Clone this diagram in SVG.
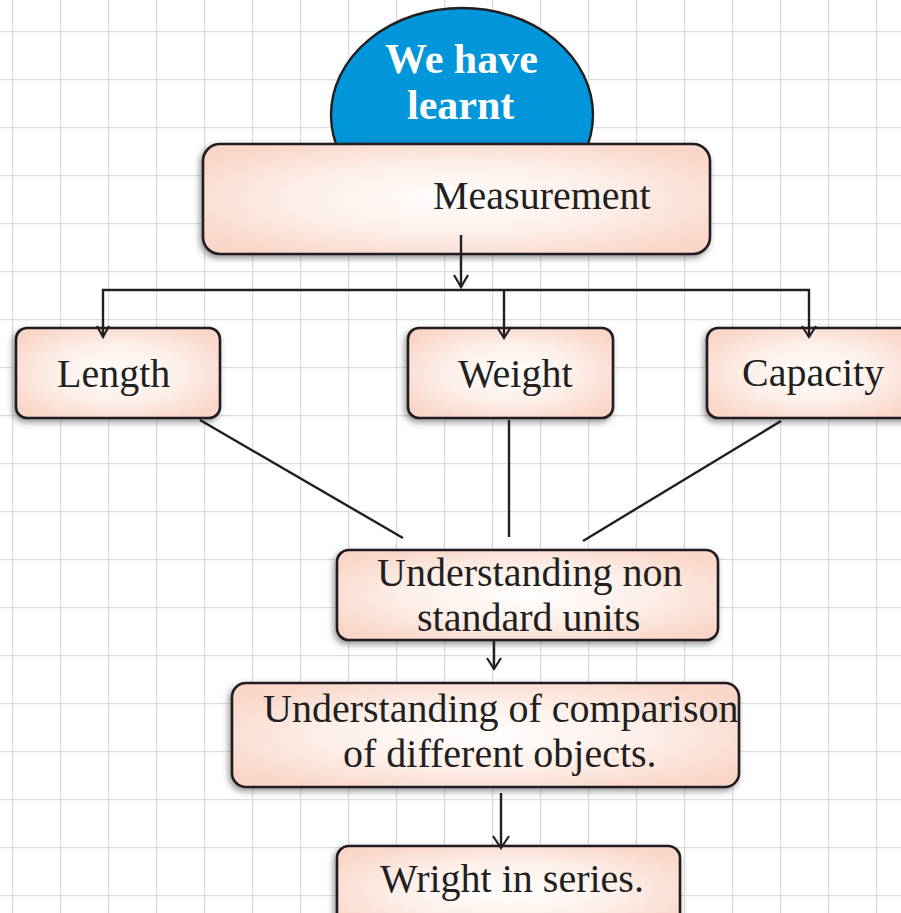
<svg xmlns="http://www.w3.org/2000/svg" width="901" height="913" viewBox="0 0 901 913">
  <defs>
    <pattern id="grid" x="12" y="31" width="48" height="48" patternUnits="userSpaceOnUse">
      <path d="M0,0 V48 M0,0 H48" fill="none" stroke="#dcdcdc" stroke-width="2.4"/>
    </pattern>
    <radialGradient id="peach" cx="0.5" cy="0.5" r="0.6">
      <stop offset="0" stop-color="#ffffff"/>
      <stop offset="0.55" stop-color="#fdeee7"/>
      <stop offset="1" stop-color="#f9d6c8"/>
    </radialGradient>
    <filter id="shadow" x="-10%" y="-20%" width="120%" height="145%">
      <feDropShadow dx="-2" dy="3" stdDeviation="3" flood-color="#3a3a3a" flood-opacity="0.55"/>
    </filter>
    <style>
      .box { fill: url(#peach); stroke: #231f20; stroke-width: 2.6; filter: url(#shadow); }
      .lbl { font-family: "Liberation Serif", "Times New Roman", serif; font-size: 40px; fill: #231f20; }
      .wire { fill: none; stroke: #231f20; stroke-width: 2.4; }
      .head { fill: none; stroke: #231f20; stroke-width: 2.2; stroke-linejoin: miter; }
      .title { font-family: "Liberation Serif", "Times New Roman", serif; font-size: 42px; font-weight: bold; fill: #ffffff; }
    </style>
  </defs>

  <!-- squared paper background -->
  <rect width="901" height="913" fill="#ffffff"/>
  <rect width="901" height="913" fill="url(#grid)"/>

  <!-- heading bubble -->
  <g id="heading">
    <ellipse cx="462" cy="115" rx="131" ry="107" fill="#0096d9" stroke="#231f20" stroke-width="2.4"/>
    <text class="title" x="385" y="73">We have</text>
    <text class="title" x="407" y="119">learnt</text>
  </g>

  <g id="measurement">
    <rect class="box" x="203" y="144" width="507" height="110" rx="17"/>
    <text class="lbl" x="433" y="209">Measurement</text>
  </g>

  <g id="length">
    <rect class="box" x="16" y="328" width="204" height="90" rx="11"/>
    <text class="lbl" x="57" y="387">Length</text>
  </g>

  <g id="weight">
    <rect class="box" x="408" y="328" width="205" height="90" rx="11"/>
    <text class="lbl" x="458" y="387">Weight</text>
  </g>

  <g id="capacity">
    <rect class="box" x="707" y="328" width="210" height="90" rx="11"/>
    <text class="lbl" x="742" y="386">Capacity</text>
  </g>

  <g id="non-standard-units">
    <rect class="box" x="337" y="550" width="381" height="90" rx="12"/>
    <text class="lbl" x="377" y="586">Understanding non</text>
    <text class="lbl" x="417" y="631">standard units</text>
  </g>

  <g id="comparison">
    <rect class="box" x="232" y="683" width="507" height="104" rx="14"/>
    <text class="lbl" x="263" y="722">Understanding of comparison</text>
    <text class="lbl" x="343" y="767">of different objects.</text>
  </g>

  <g id="series">
    <rect class="box" x="337" y="846" width="343" height="90" rx="12"/>
    <text class="lbl" x="380" y="892">Wright in series.</text>
  </g>

  <!-- connectors, drawn over the boxes so the arrow tips sit on the borders -->
  <g id="connectors">
    <line class="wire" x1="461" y1="235" x2="461" y2="287"/>
    <polyline class="head" points="454,275 461,287 468,275"/>
    <polyline class="wire" points="103,337 103,290 809,290 809,337"/>
    <line class="wire" x1="504" y1="290" x2="504" y2="338"/>
    <polyline class="head" points="97,326 103,337 109,326"/>
    <polyline class="head" points="497,327 504,338 511,327"/>
    <polyline class="head" points="802,326 809,337 816,326"/>
    <line class="wire" x1="200" y1="420" x2="403" y2="538"/>
    <line class="wire" x1="509" y1="420" x2="509" y2="537"/>
    <line class="wire" x1="781" y1="421" x2="583" y2="541"/>
    <line class="wire" x1="494" y1="640" x2="494" y2="669"/>
    <polyline class="head" points="487,658 494,669 501,658"/>
    <line class="wire" x1="501" y1="793" x2="501" y2="848"/>
    <polyline class="head" points="493,836 501,848 509,836"/>
  </g>
</svg>
